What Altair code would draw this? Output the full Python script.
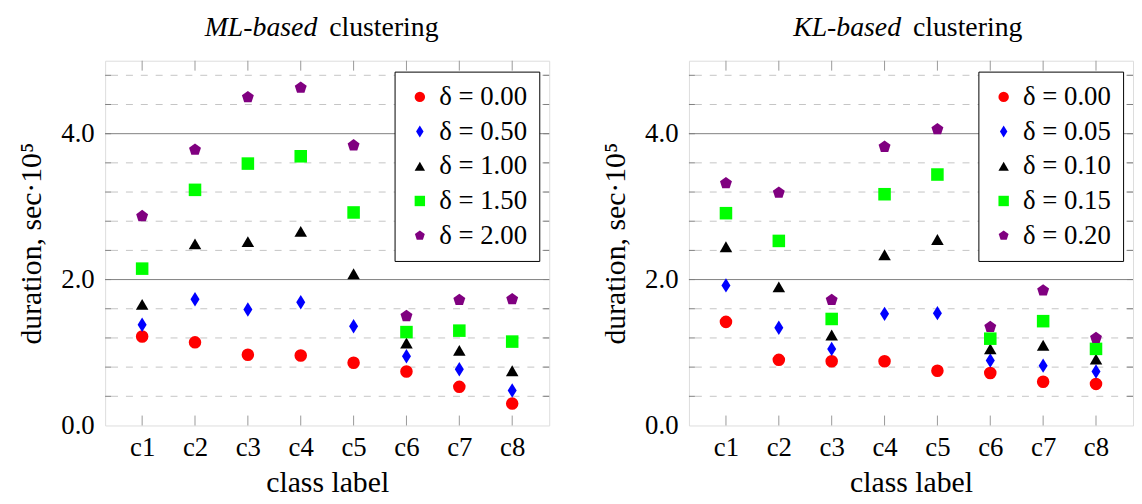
import altair as alt
import pandas as pd

# ---------------- data ----------------
classes = ["c1", "c2", "c3", "c4", "c5", "c6", "c7", "c8"]

ml_labels = ["δ = 0.00", "δ = 0.50", "δ = 1.00", "δ = 1.50", "δ = 2.00"]
ml_d000 = [1.22, 1.14, 0.97, 0.96, 0.86, 0.74, 0.53, 0.30]
ml_d050 = [1.38, 1.73, 1.59, 1.69, 1.36, 0.95, 0.77, 0.48]
ml_d100 = [1.66, 2.49, 2.52, 2.66, 2.08, 1.13, 1.03, 0.75]
ml_d150 = [2.15, 3.23, 3.59, 3.69, 2.92, 1.28, 1.30, 1.15]
ml_d200 = [2.87, 3.78, 4.50, 4.63, 3.84, 1.50, 1.72, 1.73]

kl_labels = ["δ = 0.00", "δ = 0.05", "δ = 0.10", "δ = 0.15", "δ = 0.20"]
kl_d000 = [1.42, 0.90, 0.88, 0.88, 0.75, 0.72, 0.60, 0.57]
kl_d005 = [1.92, 1.34, 1.05, 1.53, 1.54, 0.89, 0.82, 0.74]
kl_d010 = [2.45, 1.90, 1.24, 2.34, 2.55, 1.05, 1.10, 0.91]
kl_d015 = [2.91, 2.53, 1.46, 3.17, 3.44, 1.19, 1.43, 1.05]
kl_d020 = [3.32, 3.19, 1.72, 3.82, 4.06, 1.35, 1.85, 1.20]

y_major = [2.0, 4.0]
y_minor = [0.4, 0.8, 1.2, 1.6, 2.4, 2.8, 3.2, 3.6, 4.4, 4.8]
y_labels = [0.0, 2.0, 4.0]

# ---------------- styles ----------------
FONT = "Liberation Serif"
FS = 27
FT = 28
FA = 30
W, H = 448, 368
colors = ["#ff0000", "#0000ff", "#000000", "#00ff00", "#800080"]
shapes = [
    "circle",
    "M0,-1.15L0.72,0L0,1.15L-0.72,0Z",
    "triangle-up",
    "square",
    "M0,-1L0.951,-0.309L0.588,0.809L-0.588,0.809L-0.951,-0.309Z",
]


def panel(series, labels, italic_part):
    rows = []
    for lab, vals in zip(labels, series):
        for c, v in zip(classes, vals):
            rows.append({"cls": c, "delta": lab, "dur": v})
    df = pd.DataFrame(rows)

    xscale = alt.Scale(type="point", domain=classes, padding=0.7)
    yscale = alt.Scale(domain=[0, 5], nice=False, zero=True)

    xaxis = alt.Axis(
        title="class label", labelAngle=0, ticks=False, domain=False, grid=False,
        labelFont=FONT, labelFontSize=FS, labelColor="black", labelPadding=9,
        titleFont=FONT, titleFontSize=FA, titleFontWeight="normal", titleColor="black",
        titlePadding=8,
    )
    yaxis = alt.Axis(
        title="duration, sec·10⁵", values=y_labels, format=".1f", ticks=False,
        domain=False, grid=False, labelFont=FONT, labelFontSize=FS, labelColor="black",
        labelPadding=11, titleFont=FONT, titleFontSize=FA, titleFontWeight="normal",
        titleColor="black", titlePadding=14,
    )

    minor_df = pd.DataFrame({"y": y_minor})
    major_df = pd.DataFrame({"y": y_major})
    all_y = pd.DataFrame({"y": y_minor + y_major})
    cls_df = pd.DataFrame({"cls": classes})

    minor = alt.Chart(minor_df).mark_rule(color="#c4c4c4", strokeWidth=1, strokeDash=[7, 8]).encode(
        y=alt.Y("y:Q", scale=yscale, axis=yaxis)
    )
    major = alt.Chart(major_df).mark_rule(color="#808080", strokeWidth=1).encode(
        y=alt.Y("y:Q", scale=yscale)
    )
    ytick_l = alt.Chart(all_y).mark_rule(color="#808080", strokeWidth=1).encode(
        y=alt.Y("y:Q", scale=yscale), x=alt.value(0), x2=alt.value(6)
    )
    ytick_r = alt.Chart(all_y).mark_rule(color="#808080", strokeWidth=1).encode(
        y=alt.Y("y:Q", scale=yscale), x=alt.value(W - 6), x2=alt.value(W)
    )
    xtick_b = alt.Chart(cls_df).mark_rule(color="#999999", strokeWidth=1).encode(
        x=alt.X("cls:N", scale=xscale, axis=xaxis), y=alt.value(H), y2=alt.value(H - 10)
    )
    xtick_t = alt.Chart(cls_df).mark_rule(color="#999999", strokeWidth=1).encode(
        x=alt.X("cls:N", scale=xscale), y=alt.value(0), y2=alt.value(10)
    )

    leg = alt.Legend(
        orient="none", legendX=292, legendY=11, title=None,
        labelFont=FONT, labelFontSize=FS, labelColor="black", labelOffset=6,
        symbolSize=110, symbolStrokeWidth=0, strokeColor="black", fillColor="white",
        padding=12, rowPadding=7, cornerRadius=0, labelLimit=300,
    )
    pts = alt.Chart(df).mark_point(filled=True, opacity=1, size=160).encode(
        x=alt.X("cls:N", scale=xscale),
        y=alt.Y("dur:Q", scale=yscale),
        color=alt.Color("delta:N", scale=alt.Scale(domain=labels, range=colors), sort=labels, legend=leg),
        shape=alt.Shape("delta:N", scale=alt.Scale(domain=labels, range=shapes), sort=labels, legend=leg),
    )

    t1 = alt.Chart(pd.DataFrame({"t": [italic_part]})).mark_text(
        font=FONT, fontSize=FT, fontStyle="italic", align="right", baseline="alphabetic", color="black"
    ).encode(text="t:N", x=alt.value(214), y=alt.value(-25))
    t2 = alt.Chart(pd.DataFrame({"t": ["clustering"]})).mark_text(
        font=FONT, fontSize=FT, align="left", baseline="alphabetic", color="black"
    ).encode(text="t:N", x=alt.value(226), y=alt.value(-25))

    return alt.layer(minor, major, ytick_l, ytick_r, xtick_b, xtick_t, pts, t1, t2).properties(
        width=W, height=H
    )


left = panel([ml_d000, ml_d050, ml_d100, ml_d150, ml_d200], ml_labels, "ML-based")
right = panel([kl_d000, kl_d005, kl_d010, kl_d015, kl_d020], kl_labels, "KL-based")

chart = alt.hconcat(left, right, spacing=50).resolve_scale(
    color="independent", shape="independent"
).resolve_legend(color="independent", shape="independent").properties(
    padding={"left": 8, "top": 3, "right": 0, "bottom": 0}
).configure_view(stroke="black", strokeWidth=1.2).configure(background="white")

chart.save("out.html", embed_options={"renderer": "svg", "actions": False})
